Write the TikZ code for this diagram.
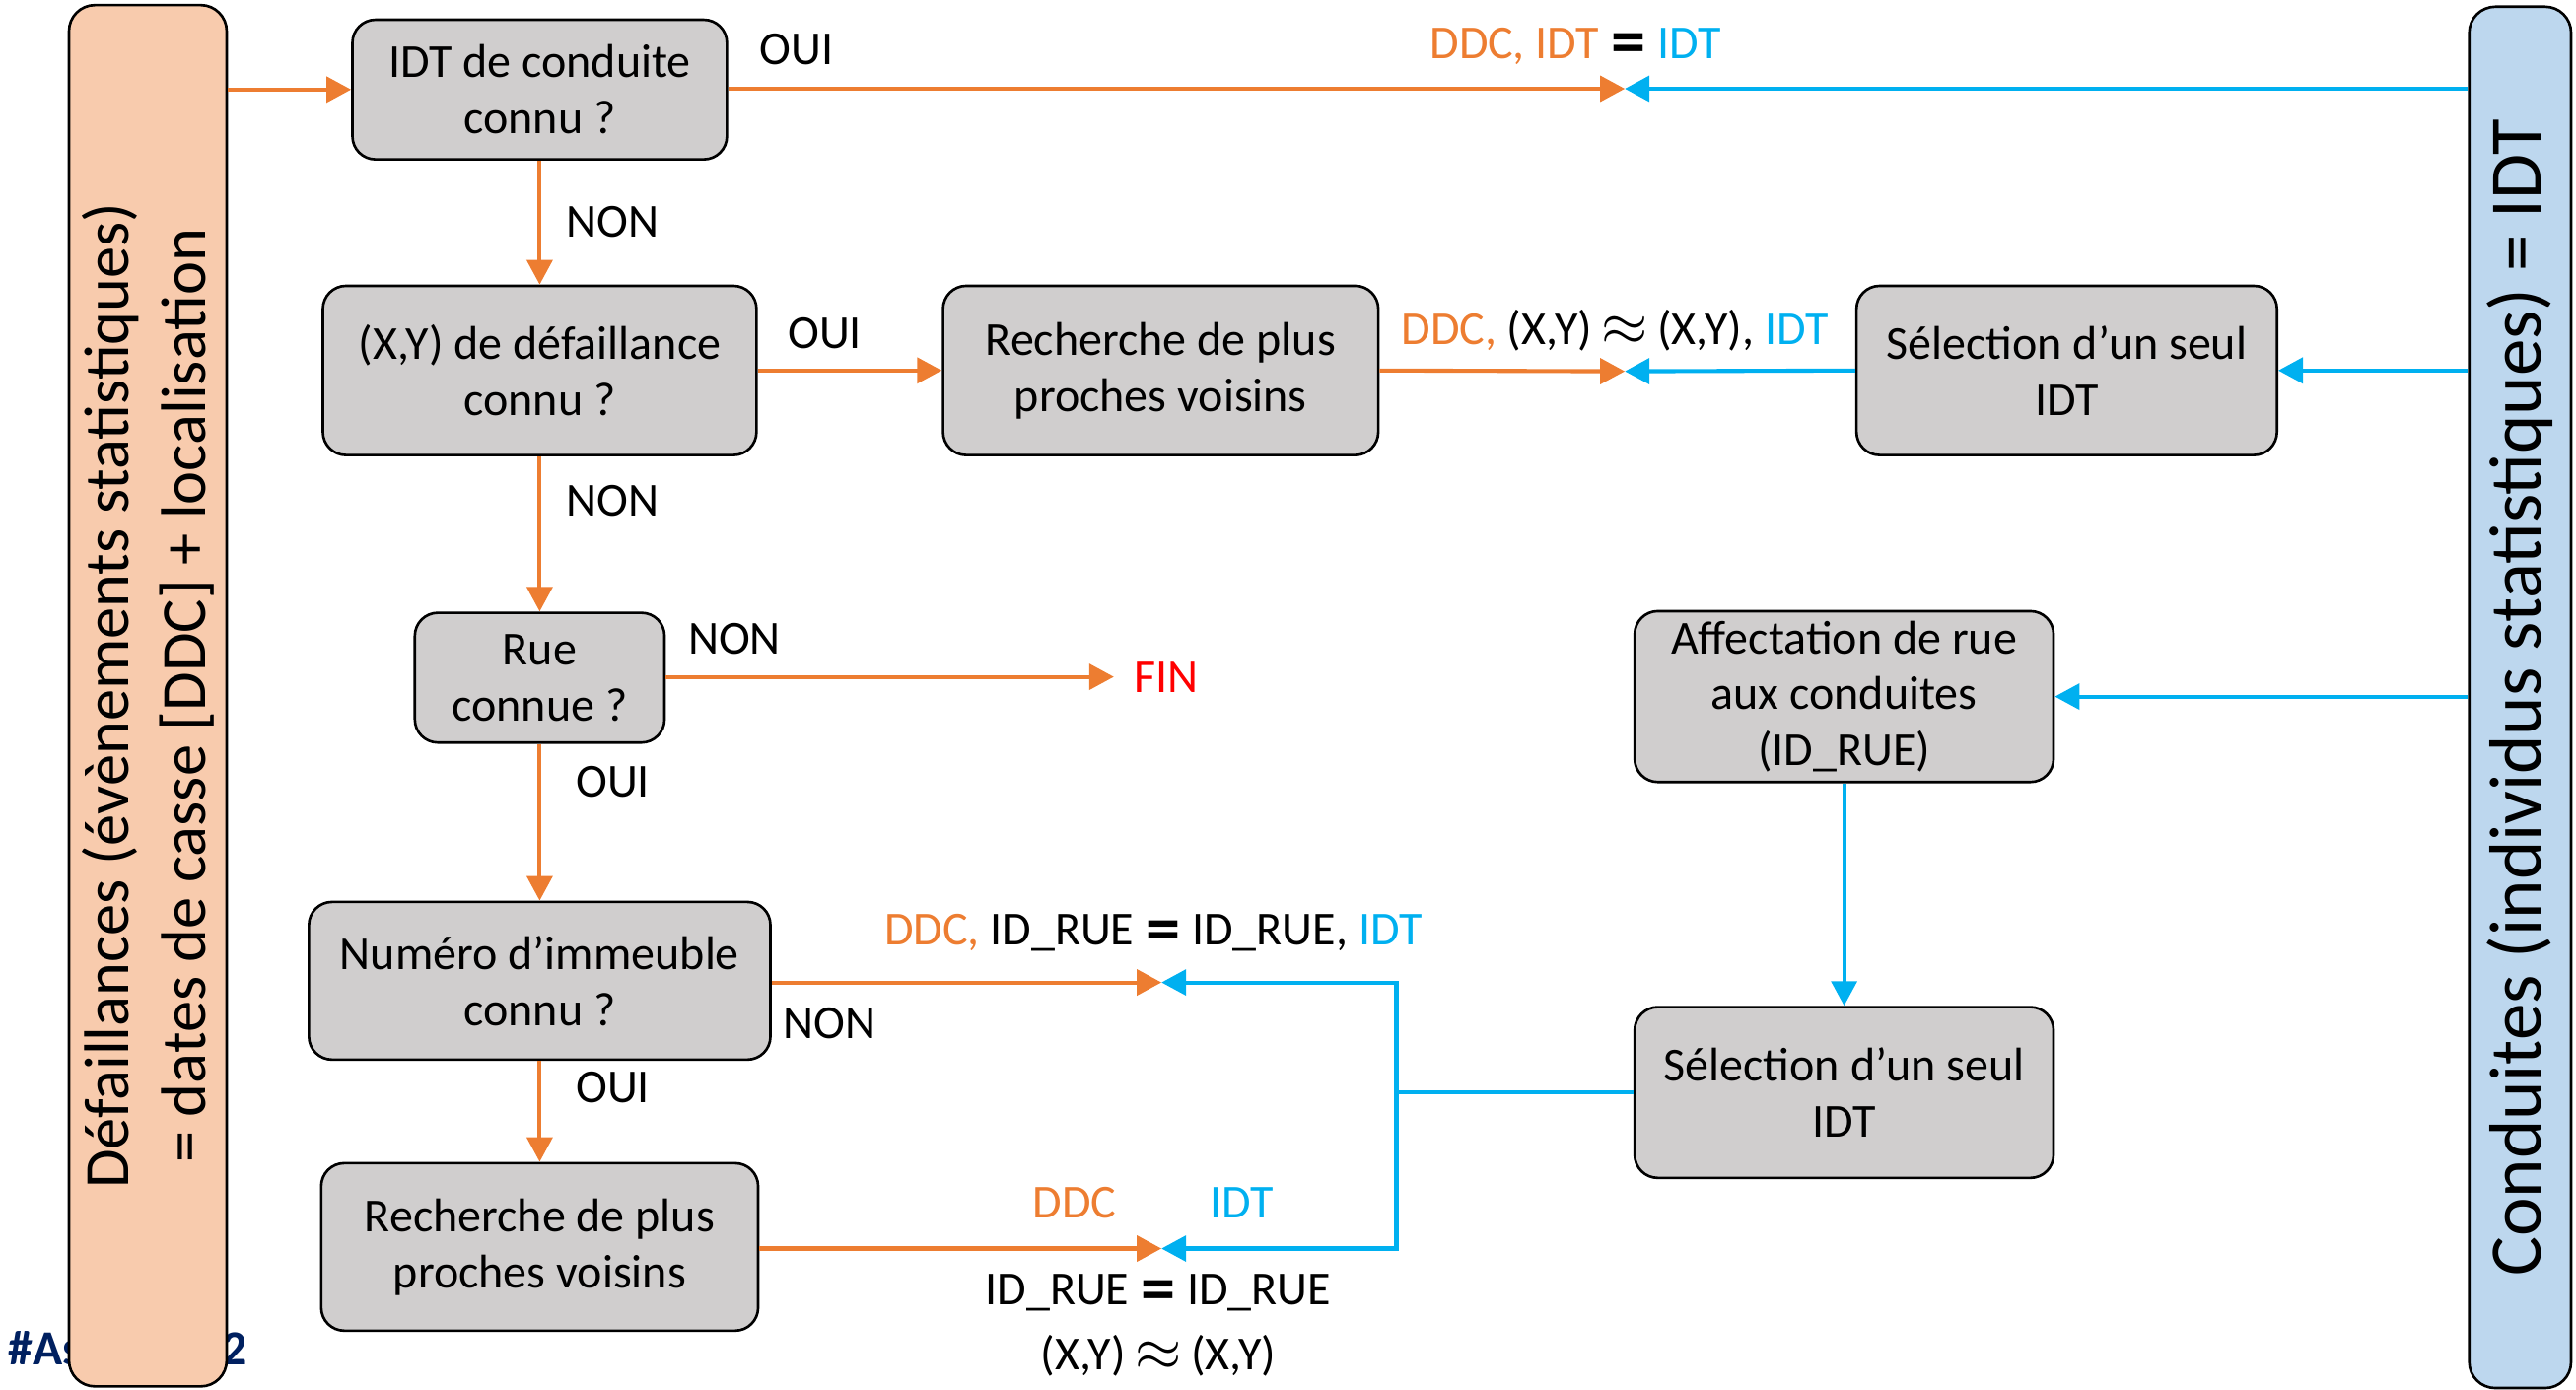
\documentclass[tikz,border=0pt]{standalone}
\usepackage{fontspec}
\setmainfont{Carlito}
\usepackage{xcolor}
\usepackage{tikz}
\usetikzlibrary{arrows.meta,positioning}
\definecolor{orng}{HTML}{ED7D31}
\definecolor{bleu}{HTML}{00B0F0}
\definecolor{stop}{HTML}{FF0000}
\definecolor{navy}{HTML}{002060}
\definecolor{grisbox}{HTML}{D0CECE}
\definecolor{peche}{HTML}{F8CBAD}
\definecolor{ciel}{HTML}{BDD7EE}
\tikzset{
  box/.style={draw=black,line width=0.9pt,rounded corners=8pt,fill=grisbox,align=center,font=\fontsize{16.4}{19.4}\selectfont,inner sep=0pt},
  side/.style={draw=black,line width=0.9pt,rounded corners=9pt,inner sep=0pt},
  oflow/.style={-{Triangle[length=3mm,width=3.1mm]},line width=1.4pt,draw=orng},
  bflow/.style={-{Triangle[length=3mm,width=3.1mm]},line width=1.4pt,draw=bleu},
  lbl/.style={font=\fontsize{16.4}{19.4}\selectfont,inner sep=0pt,align=center},
  big/.style={rotate=90,align=center,inner sep=0pt}
}
\newcommand{\ddc}[1]{\textcolor{orng}{#1}}
\newcommand{\idt}[1]{\textcolor{bleu}{#1}}
\newcommand{\egal}{\hspace{0.25em}\smash{\raisebox{-2.2pt}{\fontsize{24}{19.4}\selectfont\bfseries =}}\hspace{0.25em}}
\newcommand{\envi}{\hspace{0.2em}\smash{\raisebox{-0.5pt}{\fontsize{20}{19.4}\selectfont$\approx$}}\hspace{0.2em}}

\begin{document}
\begin{tikzpicture}[x=0.02cm,y=-0.02cm]
  \useasboundingbox (0,0) rectangle (1568,846);
  % footer fragments, partly behind the left box
  \node[lbl,anchor=west,text=navy,font=\fontsize{17}{19.4}\selectfont\bfseries] (tagA) at (5,821) {\#As};
  \node[lbl,anchor=west,text=navy,font=\fontsize{17}{19.4}\selectfont\bfseries] (tagB) at (135,821) {2};

  % side boxes
  \node[side,fill=peche,minimum width=1.92cm,minimum height=16.82cm] (defa) at (90,423.5) {};
  \node[big,font=\fontsize{22}{26.7}\selectfont] (defatxt) at (defa.center) {Défaillances (évènements statistiques)\\= dates de casse [DDC] + localisation};
  \node[side,fill=ciel,minimum width=1.24cm,minimum height=16.82cm] (cond) at (1534,424.5) {};
  \node[big,font=\fontsize{25.6}{30}\selectfont] (condtxt) at (cond.center) {Conduites (individus statistiques) = IDT};

  % decision column
  \node[box,minimum width=4.56cm,minimum height=1.70cm] (idtq) at (328.5,54.5) {IDT de conduite\\connu ?};
  \node[box,minimum width=5.28cm,minimum height=2.06cm] (xyq) at (328.5,225.5) {(X,Y) de défaillance\\connu ?};
  \node[box,minimum width=3.04cm,minimum height=1.58cm] (rueq) at (328.5,412.5) {Rue\\connue ?};
  \node[box,minimum width=5.62cm,minimum height=1.92cm] (numq) at (328.5,597) {Numéro d’immeuble\\connu ?};
  \node[box,minimum width=5.32cm,minimum height=2.04cm] (voisB) at (328.5,759) {Recherche de plus\\proches voisins};

  % other boxes
  \node[box,minimum width=5.30cm,minimum height=2.06cm] (voisA) at (706.5,225.5) {Recherche de plus\\proches voisins};
  \node[box,minimum width=5.12cm,minimum height=2.06cm] (selA) at (1258,225.5) {Sélection d’un seul\\IDT};
  \node[box,minimum width=5.10cm,minimum height=2.08cm] (affr) at (1122.5,424) {Affectation de rue\\aux conduites\\(ID\_RUE)};
  \node[box,minimum width=5.10cm,minimum height=2.08cm] (selB) at (1122.5,665) {Sélection d’un seul\\IDT};

  % meeting points
  \coordinate (mA) at (989,54);
  \coordinate (mB) at (989,226);
  \coordinate (fin) at (678,412);
  \coordinate (mC) at (707,598);
  \coordinate (mD) at (707,760);
  \coordinate (jn) at (850,665);

  % orange flow
  \draw[oflow] (defa.east |- idtq.west) -- (idtq.west);
  \draw[oflow] (idtq.east |- mA) -- (mA);
  \foreach \a/\b in {idtq/xyq,xyq/rueq,rueq/numq,numq/voisB} \draw[oflow] (\a.south) -- (\b.north);
  \draw[oflow] (xyq.east) -- (voisA.west);
  \draw[oflow] (voisA.east) -- (mB);
  \draw[oflow] (rueq.east |- fin) -- (fin);
  \draw[oflow] (numq.east |- mC) -- (mC);
  \draw[oflow] (voisB.east |- mD) -- (mD);

  % blue flow
  \draw[bflow] (cond.west |- mA) -- (mA);
  \draw[bflow] (cond.west |- selA.east) -- (selA.east);
  \draw[bflow] (selA.west) -- (mB);
  \draw[bflow] (cond.west |- affr.east) -- (affr.east);
  \draw[bflow] (affr.south) -- (selB.north);
  \draw[bflow] (selB.west) -- (jn) |- (mC);
  \draw[bflow] (jn) |- (mD);

  % labels
  \node[lbl] (oui1) at (485,30) {OUI};
  \node[lbl] (non1) at (373,135) {NON};
  \node[lbl] (oui2) at (502,203) {OUI};
  \node[lbl] (non2) at (373,305) {NON};
  \node[lbl] (non3) at (447,389) {NON};
  \node[lbl,text=stop] (fintxt) at (710,412) {FIN};
  \node[lbl] (oui3) at (373,476) {OUI};
  \node[lbl] (non4) at (505,623) {NON};
  \node[lbl] (oui4) at (373,662) {OUI};
  \node[lbl] (eqA) at (959,28) {\ddc{DDC, IDT}\egal\idt{IDT}};
  \node[lbl] (eqB) at (983,201) {\ddc{DDC,} (X,Y)\envi(X,Y), \idt{IDT}};
  \node[lbl] (eqC) at (702,568) {\ddc{DDC,} ID\_RUE\egal ID\_RUE, \idt{IDT}};
  \node[lbl,text=orng] (ddcD) at (654,732) {DDC};
  \node[lbl,text=bleu] (idtD) at (756,732) {IDT};
  \node[lbl] (eqD) at (705,787) {ID\_RUE\egal ID\_RUE};
  \node[lbl] (eqE) at (705,825) {(X,Y)\envi(X,Y)};
\end{tikzpicture}
\end{document}
